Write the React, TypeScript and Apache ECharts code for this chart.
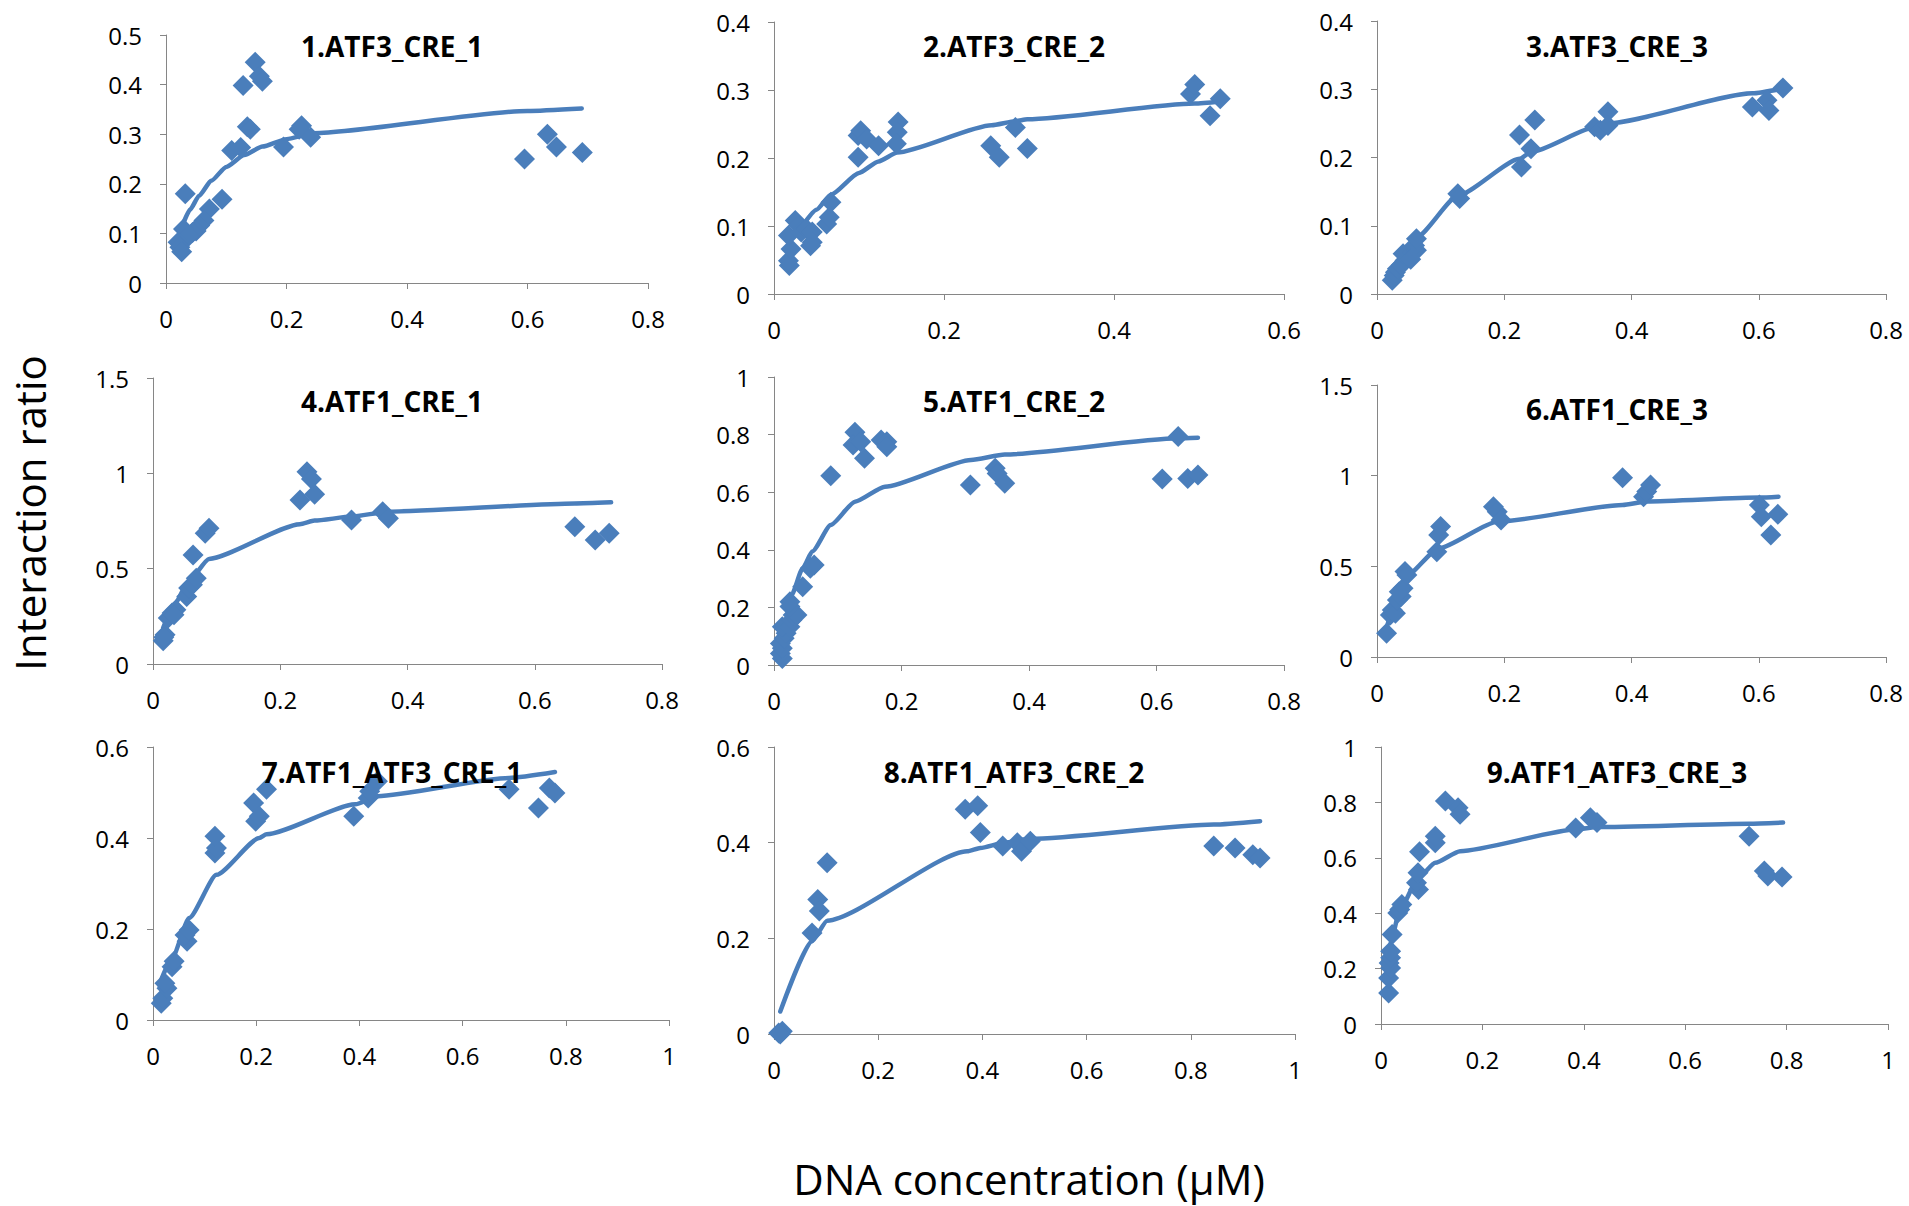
import React, { useEffect, useRef } from "react";
import * as echarts from "echarts";

// ---------- DATA ----------
const panelTitles = [
  "1.ATF3_CRE_1",
  "2.ATF3_CRE_2",
  "3.ATF3_CRE_3",
  "4.ATF1_CRE_1",
  "5.ATF1_CRE_2",
  "6.ATF1_CRE_3",
  "7.ATF1_ATF3_CRE_1",
  "8.ATF1_ATF3_CRE_2",
  "9.ATF1_ATF3_CRE_3",
];
const xMaxes = [0.8, 0.6, 0.8, 0.8, 0.8, 0.8, 1, 1, 1];
const yMaxes = [0.5, 0.4, 0.4, 1.5, 1, 1.5, 0.6, 0.6, 1];
const yIntervals = [0.1, 0.1, 0.1, 0.5, 0.2, 0.5, 0.2, 0.2, 0.2];
const xInterval = 0.2;

const p1Points = [
  [0.032, 0.18], [0.148, 0.445], [0.128, 0.398], [0.155, 0.417], [0.16, 0.407],
  [0.135, 0.315], [0.14, 0.31], [0.109, 0.267], [0.124, 0.273], [0.093, 0.169],
  [0.072, 0.149], [0.063, 0.126], [0.056, 0.116], [0.05, 0.105], [0.044, 0.102],
  [0.038, 0.095], [0.029, 0.109], [0.032, 0.089], [0.02, 0.082], [0.023, 0.072],
  [0.026, 0.063], [0.195, 0.274], [0.225, 0.317], [0.221, 0.31], [0.24, 0.294],
  [0.595, 0.25], [0.633, 0.3], [0.648, 0.274], [0.691, 0.263],
];
const p1Fit = [
  [0.027, 0.115], [0.04, 0.148], [0.055, 0.176], [0.075, 0.206], [0.1, 0.234],
  [0.13, 0.258], [0.16, 0.275], [0.2, 0.29], [0.245, 0.302], [0.6, 0.347], [0.69, 0.352],
];

const p2Points = [
  [0.018, 0.042], [0.017, 0.049], [0.02, 0.066], [0.017, 0.086], [0.025, 0.108],
  [0.029, 0.101], [0.032, 0.091], [0.038, 0.096], [0.045, 0.091], [0.043, 0.071],
  [0.045, 0.076], [0.062, 0.103], [0.065, 0.113], [0.067, 0.135], [0.099, 0.201],
  [0.099, 0.233], [0.102, 0.24], [0.109, 0.228], [0.123, 0.218], [0.146, 0.253],
  [0.145, 0.238], [0.144, 0.221], [0.255, 0.218], [0.265, 0.201], [0.284, 0.245],
  [0.298, 0.214], [0.49, 0.294], [0.495, 0.308], [0.513, 0.262], [0.525, 0.287],
];
const p2Fit = [
  [0.035, 0.103], [0.05, 0.124], [0.067, 0.146], [0.1, 0.178], [0.123, 0.195],
  [0.145, 0.208], [0.256, 0.248], [0.284, 0.254], [0.298, 0.257], [0.495, 0.28],
  [0.525, 0.283],
];

const p3Points = [
  [0.024, 0.02], [0.027, 0.027], [0.029, 0.032], [0.032, 0.037], [0.038, 0.042],
  [0.044, 0.049], [0.05, 0.054], [0.041, 0.059], [0.056, 0.061], [0.062, 0.064],
  [0.059, 0.071], [0.062, 0.081], [0.053, 0.051], [0.127, 0.147], [0.13, 0.14],
  [0.224, 0.233], [0.227, 0.186], [0.242, 0.213], [0.248, 0.255], [0.342, 0.245],
  [0.351, 0.24], [0.363, 0.267], [0.363, 0.247], [0.59, 0.274], [0.613, 0.284],
  [0.616, 0.269], [0.638, 0.302],
];
const p3Fit = [
  [0.024, 0.027], [0.062, 0.083], [0.127, 0.144], [0.224, 0.198], [0.242, 0.208],
  [0.345, 0.245], [0.363, 0.25], [0.59, 0.294], [0.638, 0.301],
];

const p4Points = [
  [0.016, 0.122], [0.019, 0.153], [0.017, 0.14], [0.024, 0.241], [0.03, 0.267],
  [0.036, 0.284], [0.033, 0.258], [0.053, 0.354], [0.056, 0.398], [0.062, 0.415],
  [0.068, 0.45], [0.063, 0.572], [0.082, 0.686], [0.088, 0.712], [0.231, 0.86],
  [0.242, 1.008], [0.249, 0.97], [0.254, 0.89], [0.312, 0.755], [0.361, 0.799],
  [0.37, 0.764], [0.663, 0.72], [0.695, 0.651], [0.717, 0.686],
];
const p4Fit = [
  [0.016, 0.19], [0.033, 0.31], [0.056, 0.433], [0.088, 0.551], [0.231, 0.733],
  [0.254, 0.752], [0.312, 0.773], [0.37, 0.799], [0.663, 0.842], [0.72, 0.848],
];

const p5Points = [
  [0.013, 0.023], [0.01, 0.04], [0.013, 0.058], [0.01, 0.075], [0.016, 0.093],
  [0.019, 0.11], [0.013, 0.133], [0.025, 0.133], [0.028, 0.156], [0.03, 0.174],
  [0.036, 0.174], [0.025, 0.203], [0.025, 0.22], [0.045, 0.272], [0.057, 0.336],
  [0.063, 0.347], [0.089, 0.657], [0.127, 0.808], [0.124, 0.764], [0.136, 0.775],
  [0.142, 0.718], [0.168, 0.781], [0.177, 0.775], [0.177, 0.758], [0.308, 0.625],
  [0.347, 0.683], [0.35, 0.665], [0.362, 0.631], [0.609, 0.646], [0.634, 0.793],
  [0.649, 0.648], [0.665, 0.66],
];
const p5Fit = [
  [0.013, 0.04], [0.0275, 0.243], [0.045, 0.336], [0.06, 0.394], [0.089, 0.486],
  [0.127, 0.567], [0.174, 0.619], [0.309, 0.712], [0.362, 0.731], [0.634, 0.787],
  [0.665, 0.789],
];

const p6Points = [
  [0.015, 0.131], [0.021, 0.232], [0.024, 0.259], [0.029, 0.241], [0.032, 0.314],
  [0.038, 0.333], [0.041, 0.379], [0.035, 0.36], [0.044, 0.471], [0.047, 0.452],
  [0.094, 0.581], [0.097, 0.673], [0.1, 0.719], [0.183, 0.829], [0.189, 0.801],
  [0.195, 0.756], [0.386, 0.989], [0.419, 0.884], [0.424, 0.912], [0.43, 0.949],
  [0.601, 0.838], [0.604, 0.774], [0.619, 0.673], [0.63, 0.787],
];
const p6Fit = [
  [0.015, 0.158], [0.029, 0.305], [0.044, 0.44], [0.097, 0.599], [0.189, 0.746],
  [0.386, 0.838], [0.424, 0.857], [0.601, 0.879], [0.631, 0.884],
];

const p7Points = [
  [0.016, 0.037], [0.019, 0.048], [0.027, 0.07], [0.023, 0.081], [0.037, 0.117],
  [0.041, 0.129], [0.066, 0.173], [0.062, 0.187], [0.07, 0.198], [0.12, 0.367],
  [0.123, 0.378], [0.12, 0.404], [0.195, 0.477], [0.199, 0.437], [0.206, 0.448],
  [0.22, 0.507], [0.389, 0.448], [0.417, 0.488], [0.42, 0.503], [0.435, 0.525],
  [0.69, 0.507], [0.747, 0.466], [0.768, 0.51], [0.779, 0.499],
];
const p7Fit = [
  [0.012, 0.077], [0.037, 0.136], [0.07, 0.224], [0.123, 0.319], [0.206, 0.4],
  [0.22, 0.408], [0.392, 0.474], [0.435, 0.492], [0.69, 0.532], [0.779, 0.545],
];

const p8Points = [
  [0.009, 0.002], [0.016, 0.006], [0.012, 0.0], [0.073, 0.211], [0.084, 0.281],
  [0.087, 0.257], [0.102, 0.358], [0.367, 0.47], [0.391, 0.477], [0.396, 0.421],
  [0.439, 0.393], [0.467, 0.4], [0.475, 0.382], [0.492, 0.403], [0.844, 0.393],
  [0.885, 0.389], [0.919, 0.375], [0.933, 0.368],
];
const p8Fit = [
  [0.012, 0.047], [0.073, 0.194], [0.102, 0.237], [0.371, 0.382], [0.396, 0.389],
  [0.442, 0.4], [0.492, 0.408], [0.844, 0.438], [0.933, 0.445],
];

const p9Points = [
  [0.015, 0.112], [0.015, 0.166], [0.019, 0.202], [0.016, 0.22], [0.019, 0.239],
  [0.019, 0.263], [0.022, 0.323], [0.033, 0.401], [0.037, 0.413], [0.041, 0.431],
  [0.074, 0.486], [0.07, 0.51], [0.073, 0.546], [0.076, 0.622], [0.107, 0.654],
  [0.107, 0.678], [0.127, 0.805], [0.152, 0.781], [0.156, 0.757], [0.384, 0.708],
  [0.413, 0.745], [0.426, 0.727], [0.726, 0.678], [0.756, 0.552], [0.763, 0.534],
  [0.791, 0.531],
];
const p9Fit = [
  [0.015, 0.245], [0.022, 0.317], [0.037, 0.413], [0.074, 0.528], [0.107, 0.582],
  [0.156, 0.624], [0.385, 0.702], [0.426, 0.711], [0.726, 0.723], [0.793, 0.727],
];

const allPoints = [p1Points, p2Points, p3Points, p4Points, p5Points, p6Points, p7Points, p8Points, p9Points];
const allFits = [p1Fit, p2Fit, p3Fit, p4Fit, p5Fit, p6Fit, p7Fit, p8Fit, p9Fit];

// ---------- LAYOUT ----------
const gridBoxes = [
  { left: 166, top: 35, width: 482, height: 248 },
  { left: 774, top: 22, width: 510, height: 272 },
  { left: 1377, top: 21, width: 509, height: 273 },
  { left: 153, top: 378, width: 509, height: 286 },
  { left: 774, top: 377, width: 510, height: 288 },
  { left: 1377, top: 385, width: 509, height: 272 },
  { left: 153, top: 747, width: 516, height: 273 },
  { left: 774, top: 747, width: 521, height: 287 },
  { left: 1381, top: 747, width: 507, height: 277 },
];
const titlePos = [
  [392, 46], [1014, 46], [1617, 46],
  [392, 401], [1014, 401], [1617, 409],
  [392, 772], [1014, 772], [1617, 772],
];

const BLUE = "#4A7EBB";
const AXIS_GRAY = "#868686";
const FONT = "Open Sans";

export default function App() {
  const ref = useRef<HTMLDivElement>(null);
  useEffect(() => {
    if (!ref.current) return;
    const chart = echarts.init(ref.current, undefined, { renderer: "svg" });
    const grid = gridBoxes.map((g) => ({ ...g, containLabel: false }));
    const axisCommon = {
      type: "value" as const,
      min: 0,
      axisLine: { show: true, onZero: false, lineStyle: { color: AXIS_GRAY, width: 1 } },
      axisTick: { show: true, inside: false, length: 6, lineStyle: { color: AXIS_GRAY, width: 1 } },
      splitLine: { show: false },
    };
    const xAxis = xMaxes.map((mx, i) => ({
      ...axisCommon,
      gridIndex: i,
      max: mx,
      interval: xInterval,
      axisLabel: { color: "#000", fontSize: 24, fontFamily: FONT, margin: 23, showMinLabel: true, showMaxLabel: true },
    }));
    const yAxis = yMaxes.map((mx, i) => ({
      ...axisCommon,
      gridIndex: i,
      max: mx,
      interval: yIntervals[i],
      axisLabel: { color: "#000", fontSize: 24, fontFamily: FONT, margin: 24, showMinLabel: true, showMaxLabel: true },
    }));
    const series: any[] = [];
    for (let i = 0; i < 9; i++) {
      series.push({
        type: "line",
        xAxisIndex: i,
        yAxisIndex: i,
        data: allFits[i],
        showSymbol: false,
        smooth: 0.2,
        smoothMonotone: "x",
        lineStyle: { color: BLUE, width: 4.5, cap: "round", join: "round" },
        itemStyle: { color: BLUE },
        silent: true,
        z: 2,
      });
      series.push({
        type: "scatter",
        xAxisIndex: i,
        yAxisIndex: i,
        data: allPoints[i],
        symbol: "diamond",
        symbolSize: [21, 21],
        itemStyle: { color: BLUE, opacity: 1 },
        clip: false,
        z: 3,
      });
    }
    const graphic: any[] = panelTitles.map((t, i) => ({
      type: "text",
      x: titlePos[i][0],
      y: titlePos[i][1],
      z: 10,
      style: {
        text: t,
        fontSize: 28,
        fontWeight: "bold",
        fontFamily: FONT,
        fill: "#000",
        textAlign: "center",
        textVerticalAlign: "middle",
      },
    }));
    graphic.push({
      type: "text",
      x: 29,
      y: 513,
      rotation: Math.PI / 2,
      style: {
        text: "Interaction ratio",
        fontSize: 42,
        fontFamily: FONT,
        fill: "#000",
        textAlign: "center",
        textVerticalAlign: "middle",
      },
    });
    graphic.push({
      type: "text",
      x: 1029,
      y: 1178,
      style: {
        text: "DNA concentration (μM)",
        fontSize: 42,
        fontFamily: FONT,
        fill: "#000",
        textAlign: "center",
        textVerticalAlign: "middle",
      },
    });
    chart.setOption({
      animation: false,
      backgroundColor: "#fff",
      grid,
      xAxis,
      yAxis,
      series,
      graphic,
    });
    return () => chart.dispose();
  }, []);
  return (
    <div
      ref={ref}
      style={{ position: "fixed", left: 0, top: 0, width: 1909, height: 1206, background: "#fff" }}
    />
  );
}
